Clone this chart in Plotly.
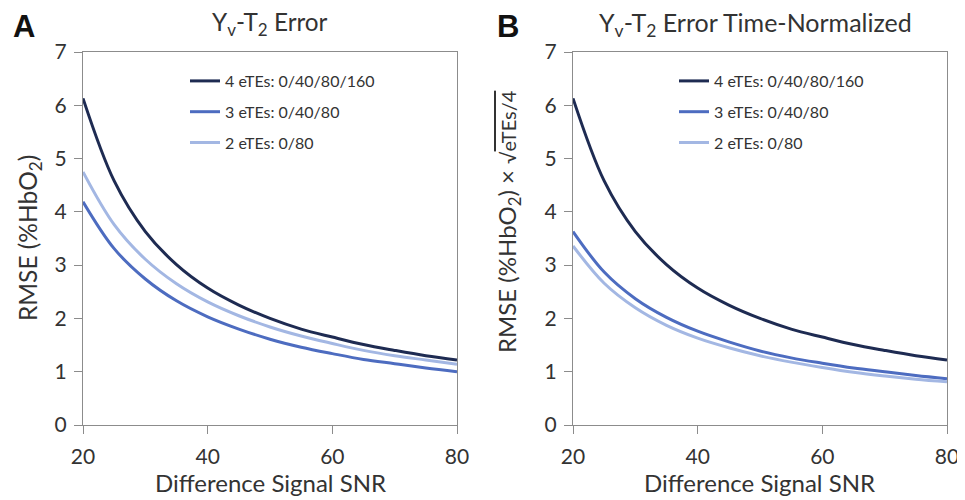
import plotly.graph_objects as go

snr = [20, 25, 30, 35, 40, 45, 50, 55, 60, 65, 70, 75, 80]

series_names = ["4 eTEs: 0/40/80/160", "3 eTEs: 0/40/80", "2 eTEs: 0/80"]

a_4ete = [6.13, 4.58, 3.63, 3.01, 2.57, 2.25, 2.00, 1.80, 1.65, 1.51, 1.40, 1.30, 1.22]
a_3ete = [4.19, 3.31, 2.74, 2.33, 2.03, 1.80, 1.61, 1.46, 1.34, 1.23, 1.15, 1.07, 1.00]
a_2ete = [4.75, 3.76, 3.11, 2.65, 2.31, 2.05, 1.84, 1.67, 1.53, 1.40, 1.30, 1.22, 1.14]

b_4ete = [6.13, 4.58, 3.63, 3.01, 2.57, 2.25, 2.00, 1.80, 1.65, 1.51, 1.40, 1.30, 1.22]
b_3ete = [3.63, 2.87, 2.37, 2.02, 1.76, 1.56, 1.39, 1.26, 1.16, 1.07, 1.00, 0.93, 0.87]
b_2ete = [3.36, 2.66, 2.20, 1.87, 1.63, 1.45, 1.30, 1.18, 1.08, 0.99, 0.92, 0.86, 0.81]

x_ticks = [20, 40, 60, 80]
y_ticks = [0, 1, 2, 3, 4, 5, 6, 7]

colors = ["#1e2b52", "#4d6cc0", "#a3b7e3"]
FONT = "Lato, 'Open Sans', sans-serif"
TXT = "#333333"

# page body has an 8px margin: lay the figure out in window pixels minus that offset
OFF = 8
W, H = 965 - OFF, 500 - OFF


def fx(x):
    return (x - OFF) / W


def fy(y):
    return 1 - (y - OFF) / H


fig = go.Figure()

for i, (name, ys) in enumerate(zip(series_names, [a_4ete, a_3ete, a_2ete])):
    fig.add_trace(go.Scatter(x=snr, y=ys, mode="lines", name=name,
                             line=dict(color=colors[i], width=3, shape="spline"),
                             xaxis="x", yaxis="y", legend="legend",
                             legendgroup="a%d" % i))
for i, (name, ys) in enumerate(zip(series_names, [b_4ete, b_3ete, b_2ete])):
    fig.add_trace(go.Scatter(x=snr, y=ys, mode="lines", name=name,
                             line=dict(color=colors[i], width=3, shape="spline"),
                             xaxis="x2", yaxis="y2", legend="legend2",
                             legendgroup="b%d" % i))

axis_common = dict(showline=True, linecolor="#8c8c8c", linewidth=1.3, mirror=True,
                   ticks="outside", ticklen=8, tickcolor="#8c8c8c", showgrid=False,
                   zeroline=False, automargin=False,
                   tickfont=dict(size=21, color=TXT, family=FONT))


def ann(text, x, y, size, angle=0, color=TXT, xanchor="center", family=FONT):
    return dict(text=text, x=fx(x), y=fy(y), xref="paper", yref="paper", showarrow=False,
                textangle=angle, font=dict(size=size, color=color, family=family),
                xanchor=xanchor, yanchor="middle")


y_title_b = ("RMSE (%HbO<sub>2</sub>) × "
             "<span style=\"font-size:20px\">√<span style=\"text-decoration:overline\">eTEs/4</span></span>")

LETTER_FONT = "'Liberation Sans', Arial, sans-serif"

fig.update_layout(
    width=W, height=H,
    margin=dict(l=0, r=0, t=0, b=0),
    paper_bgcolor="white", plot_bgcolor="white",
    font=dict(family=FONT, color=TXT),
    xaxis=dict(domain=[fx(83), fx(457)], range=[20, 80], tickvals=x_ticks, anchor="y",
               ticklabelstandoff=5, **axis_common),
    yaxis=dict(domain=[fy(425), fy(52)], range=[0, 7], tickvals=y_ticks, anchor="x",
               ticklabelstandoff=3, **axis_common),
    xaxis2=dict(domain=[fx(573), fx(947)], range=[20, 80], tickvals=x_ticks, anchor="y2",
                ticklabelstandoff=5, **axis_common),
    yaxis2=dict(domain=[fy(425), fy(52)], range=[0, 7], tickvals=y_ticks, anchor="x2",
                ticklabelstandoff=3, **axis_common),
    legend=dict(x=fx(185), y=fy(64), xanchor="left", yanchor="top", bgcolor="rgba(0,0,0,0)",
                font=dict(size=16, color=TXT), tracegroupgap=7, itemwidth=30),
    legend2=dict(x=fx(674), y=fy(64), xanchor="left", yanchor="top", bgcolor="rgba(0,0,0,0)",
                 font=dict(size=16, color=TXT), tracegroupgap=7, itemwidth=30),
    annotations=[
        ann("<b>A</b>", 11, 27, 31, color="#111", xanchor="left", family=LETTER_FONT),
        ann("<b>B</b>", 495, 27, 31, color="#111", xanchor="left", family=LETTER_FONT),
        ann("Y<sub>v</sub>-T<sub>2</sub> Error", 270, 24, 24.3),
        ann("Y<sub>v</sub>-T<sub>2</sub> Error Time-Normalized", 755, 24, 25),
        ann("Difference Signal SNR", 270, 482, 24),
        ann("Difference Signal SNR", 759, 482, 24),
        ann("RMSE (%HbO<sub>2</sub>)", 29, 238, 24.5, angle=-90),
        ann(y_title_b, 508, 222, 24, angle=-90),
    ],
)

fig.write_html("out.html")
